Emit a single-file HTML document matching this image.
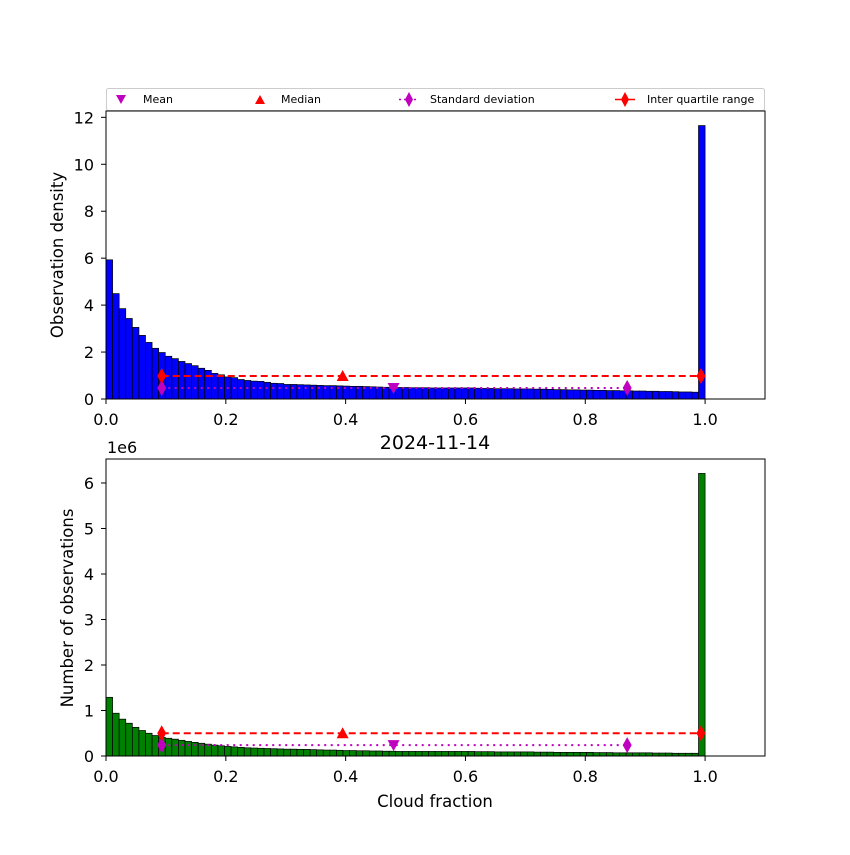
<!DOCTYPE html>
<html><head><meta charset="utf-8"><style>
body{margin:0;background:#fff}
svg{font-family:"DejaVu Sans","Liberation Sans",sans-serif}
</style></head><body>
<svg id="chart" width="850" height="850" xmlns="http://www.w3.org/2000/svg">
<rect width="850" height="850" fill="#fff"/>
<g id="legend">
<rect x="106.5" y="88.5" width="658" height="22" fill="#fff" stroke="#ccc" rx="2"/>
<path d="M116,95 L126,95 L121,104 Z" fill="#bf00bf"/>
<text x="143" y="103" font-size="11">Mean</text>
<path d="M255,104 L265,104 L260,95 Z" fill="red"/>
<text x="281" y="103" font-size="11">Median</text>
<line x1="399" y1="99.5" x2="419" y2="99.5" stroke="#bf00bf" stroke-width="1.5" stroke-dasharray="2,3"/>
<path d="M409,92 L413,99.5 L409,107 L405,99.5 Z" fill="#bf00bf"/>
<text x="430" y="103" font-size="11">Standard deviation</text>
<line x1="615" y1="99.5" x2="635" y2="99.5" stroke="red" stroke-width="1.5"/>
<path d="M625,92 L629,99.5 L625,107 L621,99.5 Z" fill="red"/>
<text x="647" y="103" font-size="11">Inter quartile range</text>
</g>
<text x="435" y="449" font-size="19" text-anchor="middle">2024-11-14</text>
<text x="107" y="453" font-size="16">1e6</text>
<text x="435" y="807" font-size="16.5" text-anchor="middle">Cloud fraction</text>
<text transform="translate(63,255) rotate(-90)" font-size="16.5" text-anchor="middle">Observation density</text>
<text transform="translate(73,608) rotate(-90)" font-size="16.5" text-anchor="middle">Number of observations</text>
</svg>
<script>
const density=[5.93,4.49,3.85,3.43,3.05,2.71,2.41,2.16,1.98,1.82,1.72,1.60,1.51,1.42,1.31,1.22,1.09,1.03,0.94,0.91,0.83,0.79,0.76,0.75,0.71,0.67,0.66,0.62,0.62,0.61,0.60,0.59,0.58,0.57,0.57,0.56,0.55,0.54,0.54,0.53,0.52,0.51,0.50,0.50,0.49,0.49,0.48,0.48,0.48,0.47,0.47,0.47,0.47,0.47,0.47,0.47,0.46,0.45,0.45,0.44,0.44,0.44,0.43,0.43,0.43,0.42,0.42,0.41,0.40,0.40,0.39,0.39,0.38,0.38,0.37,0.37,0.36,0.36,0.35,0.35,0.34,0.34,0.33,0.33,0.32,0.32,0.31,0.30,0.30,0.29,11.65];
const counts=[1.29,0.94,0.81,0.72,0.63,0.56,0.50,0.45,0.41,0.39,0.37,0.345,0.32,0.30,0.28,0.26,0.24,0.225,0.21,0.20,0.19,0.18,0.175,0.17,0.165,0.16,0.155,0.15,0.15,0.147,0.145,0.14,0.135,0.13,0.13,0.125,0.12,0.12,0.115,0.115,0.11,0.11,0.105,0.105,0.10,0.10,0.10,0.10,0.10,0.10,0.10,0.10,0.10,0.10,0.10,0.10,0.095,0.095,0.095,0.09,0.09,0.09,0.09,0.09,0.09,0.085,0.085,0.085,0.08,0.08,0.08,0.08,0.08,0.08,0.075,0.075,0.075,0.07,0.07,0.07,0.07,0.07,0.07,0.065,0.065,0.065,0.06,0.06,0.06,0.06,6.21];
const xTicks=[0,0.2,0.4,0.6,0.8,1.0];
const xTickLabels=["0.0","0.2","0.4","0.6","0.8","1.0"];
const topYTicks=[0,2,4,6,8,10,12];
const botYTicks=[0,1,2,3,4,5,6];
const topStats={mean:[0.48,0.47],median:[0.395,0.98],std:[0.093,0.87,0.47],iqr:[0.093,0.993,0.98]};
const botStats={mean:[0.48,0.24],median:[0.395,0.5],std:[0.093,0.87,0.24],iqr:[0.093,0.993,0.5]};

const NS="http://www.w3.org/2000/svg";
const svg=document.getElementById('chart');
function mk(tag,attrs,parent){const e=document.createElementNS(NS,tag);for(const k in attrs)e.setAttribute(k,attrs[k]);(parent||svg).appendChild(e);return e;}
const X0=106,X1=765;
const sx=v=>X0+v/1.1*(X1-X0);

function panel(name,top,bottom,ymax,ticks,vals,color,stats){
  const sy=v=>bottom-v/ymax*(bottom-top);
  const g=mk('g',{});
  
  
  const n=vals.length;
  vals.forEach((v,i)=>{
    const x=sx(i/n),w=sx((i+1)/n)-x;
    const r=mk('rect',{x:x,y:sy(v),width:w,height:sy(0)-sy(v),fill:color,stroke:'#000','stroke-width':0.7},g);
    
    
  });
  const iq=mk('line',{x1:sx(stats.iqr[0]),x2:sx(stats.iqr[1]),y1:sy(stats.iqr[2]),y2:sy(stats.iqr[2]),stroke:'red','stroke-width':2,'stroke-dasharray':'7,4'},g);
  
  
  const sd=mk('line',{x1:sx(stats.std[0]),x2:sx(stats.std[1]),y1:sy(stats.std[2]),y2:sy(stats.std[2]),stroke:'#bf00bf','stroke-width':2,'stroke-dasharray':'2,4.5'},g);
  
  
  const dia=(x,y,c,nm)=>{const p=mk('path',{d:`M${x},${y-8} L${x+4.5},${y} L${x},${y+8} L${x-4.5},${y} Z`,fill:c},g);
    
    };
  dia(sx(stats.std[0]),sy(stats.std[2]),'#bf00bf',name+'-std-marker');
  dia(sx(stats.std[1]),sy(stats.std[2]),'#bf00bf',name+'-std-marker');
  dia(sx(stats.iqr[0]),sy(stats.iqr[2]),'red',name+'-iqr-marker');
  dia(sx(stats.iqr[1]),sy(stats.iqr[2]),'red',name+'-iqr-marker');
  const mx=sx(stats.median[0]),my=sy(stats.median[1]);
  const md=mk('path',{d:`M${mx-6},${my+5} L${mx+6},${my+5} L${mx},${my-6} Z`,fill:'red'},g);
  
  
  const ex=sx(stats.mean[0]),ey=sy(stats.mean[1]);
  const mn=mk('path',{d:`M${ex-6},${ey-5} L${ex+6},${ey-5} L${ex},${ey+6} Z`,fill:'#bf00bf'},g);
  
  
  const fr=mk('rect',{x:X0,y:top,width:X1-X0,height:bottom-top,fill:'none',stroke:'#000','stroke-width':1},g);
  
  
  xTicks.forEach((t,i)=>{
    mk('line',{x1:sx(t),x2:sx(t),y1:bottom,y2:bottom+5,stroke:'#000'},g);
    const tx=mk('text',{x:sx(t),y:bottom+26,'font-size':16,'text-anchor':'middle'},g);
    tx.textContent=xTickLabels[i];
    
    
  });
  ticks.forEach(t=>{
    mk('line',{x1:X0-5,x2:X0,y1:sy(t),y2:sy(t),stroke:'#000'},g);
    const tx=mk('text',{x:X0-12,y:sy(t)+6,'font-size':16,'text-anchor':'end'},g);
    tx.textContent=String(t);
    
    
  });
}
panel('top',111,399,12.27,topYTicks,density,'#0000ff',topStats);
panel('bottom',459,756,6.527,botYTicks,counts,'#008000',botStats);
</script>
</body></html>
